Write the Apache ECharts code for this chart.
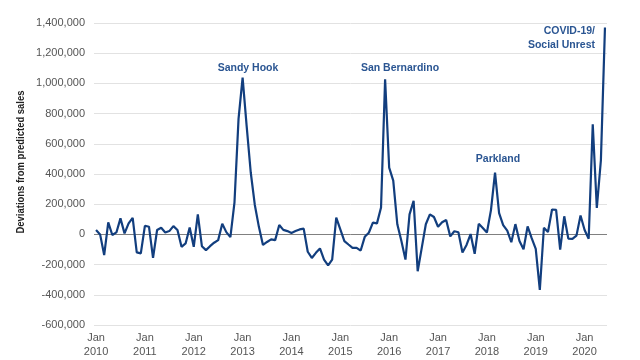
<!DOCTYPE html>
<html>
<head>
<meta charset="utf-8">
<script src="https://cdn.jsdelivr.net/npm/echarts@6/dist/echarts.min.js"></script>
<style>
html,body{margin:0;padding:0;background:#ffffff;}
#chart{width:640px;height:360px;}
</style>
</head>
<body>
<div id="chart"></div>
<script>
// Monthly categories Jan 2010 - Jun 2020
const startYear = 2010;
const monthCount = 126;
const months = [];
for (let i = 0; i < monthCount; i++) {
  const y = startYear + Math.floor(i / 12);
  const m = (i % 12) + 1;
  months.push(y + '-' + (m < 10 ? '0' + m : m));
}

// Deviations from predicted sales
const deviations = [
  29000, 0, -137000, 80000, -4000, 13000, 106000, 7000, 73000, 110000, -119000, -126000,
  57000, 51000, -155000, 29000, 44000, 13000, 22000, 55000, 29000, -82000, -60000, 46000,
  -82000, 133000, -78000, -104000, -78000, -55000, -38000, 71000, 15000, -18000, 210000, 765000,
  1038000, 715000, 410000, 195000, 50000, -70000, -50000, -33000, -38000, 62000, 30000, 22000,
  10000, 22000, 33000, 38000, -115000, -156000, -122000, -93000, -167000, -205000, -167000, 111000,
  33000, -44000, -67000, -89000, -89000, -107000, -16000, 11000, 78000, 73000, 178000, 1027000,
  442000, 356000, 67000, -44000, -167000, 133000, 222000, -244000, -89000, 67000, 133000, 115000,
  51000, 80000, 95000, -13000, 21000, 14000, -120000, -70000, 2000, -128000, 70000, 42000,
  12000, 161000, 409000, 141000, 62000, 25000, -52000, 68000, -43000, -98000, 53000, -25000,
  -96000, -368000, 44000, 16000, 165000, 162000, -101000, 120000, -28000, -30000, -8000, 125000,
  29000, -29000, 729000, 175000, 491000, 1370000
];

// Y axis ticks
const yMin = -600000;
const yMax = 1400000;
const yStep = 200000;

// Event annotations
const eventLabels = ['Sandy Hook', 'San Bernardino', 'Parkland', 'COVID-19/\nSocial Unrest'];

const chart = echarts.init(document.getElementById('chart'));
const tickFont = 'Liberation Sans, Arial, sans-serif';
const annColor = '#2a5592';

chart.setOption({
  backgroundColor: '#ffffff',
  animation: false,
  grid: { left: 94, right: 33, top: 23, bottom: 35, containLabel: false },
  xAxis: {
    type: 'category',
    data: months,
    boundaryGap: true,
    axisLine: { show: false, onZero: false },
    axisTick: { show: false },
    splitLine: { show: false },
    axisLabel: {
      interval: 11,
      margin: 6,
      color: '#555555',
      fontSize: 11,
      fontFamily: tickFont,
      lineHeight: 14,
      formatter: function (v) { return 'Jan\n' + v.slice(0, 4); }
    }
  },
  yAxis: {
    type: 'value',
    min: yMin,
    max: yMax,
    interval: yStep,
    axisLine: { show: false },
    axisTick: { show: false },
    splitLine: { lineStyle: { color: '#e2e2e2', width: 1 } },
    axisLabel: {
      margin: 9,
      color: '#555555',
      fontSize: 11,
      fontFamily: tickFont,
      formatter: function (v) { return v.toLocaleString('en-US'); }
    }
  },
  series: [{
    type: 'line',
    data: deviations,
    symbol: 'none',
    lineStyle: { color: '#123e7e', width: 2.2 },
    z: 3,
    markLine: {
      silent: true,
      symbol: 'none',
      label: { show: false },
      lineStyle: { color: '#808080', width: 1, type: 'solid' },
      data: [{ yAxis: 0 }],
      z: 2
    }
  }],
  graphic: [
    {
      type: 'text',
      x: 21, y: 162,
      rotation: Math.PI / 2,
      scaleX: 0.86,
      style: {
        text: 'Deviations from predicted sales',
        fill: '#222222',
        font: 'bold 11px "Liberation Sans", Arial, sans-serif',
        align: 'center', verticalAlign: 'middle'
      }
    },
    { type: 'text', x: 248, y: 68, style: { text: eventLabels[0], fill: annColor, font: 'bold 10.5px Liberation Sans, Arial, sans-serif', align: 'center', verticalAlign: 'middle' } },
    { type: 'text', x: 400, y: 68, style: { text: eventLabels[1], fill: annColor, font: 'bold 10.5px Liberation Sans, Arial, sans-serif', align: 'center', verticalAlign: 'middle' } },
    { type: 'text', x: 498, y: 159, style: { text: eventLabels[2], fill: annColor, font: 'bold 10.5px Liberation Sans, Arial, sans-serif', align: 'center', verticalAlign: 'middle' } },
    { type: 'text', x: 595, y: 38, style: { text: eventLabels[3], fill: annColor, font: 'bold 10.5px Liberation Sans, Arial, sans-serif', align: 'right', verticalAlign: 'middle', lineHeight: 14 } }
  ]
});
</script>
</body>
</html>
